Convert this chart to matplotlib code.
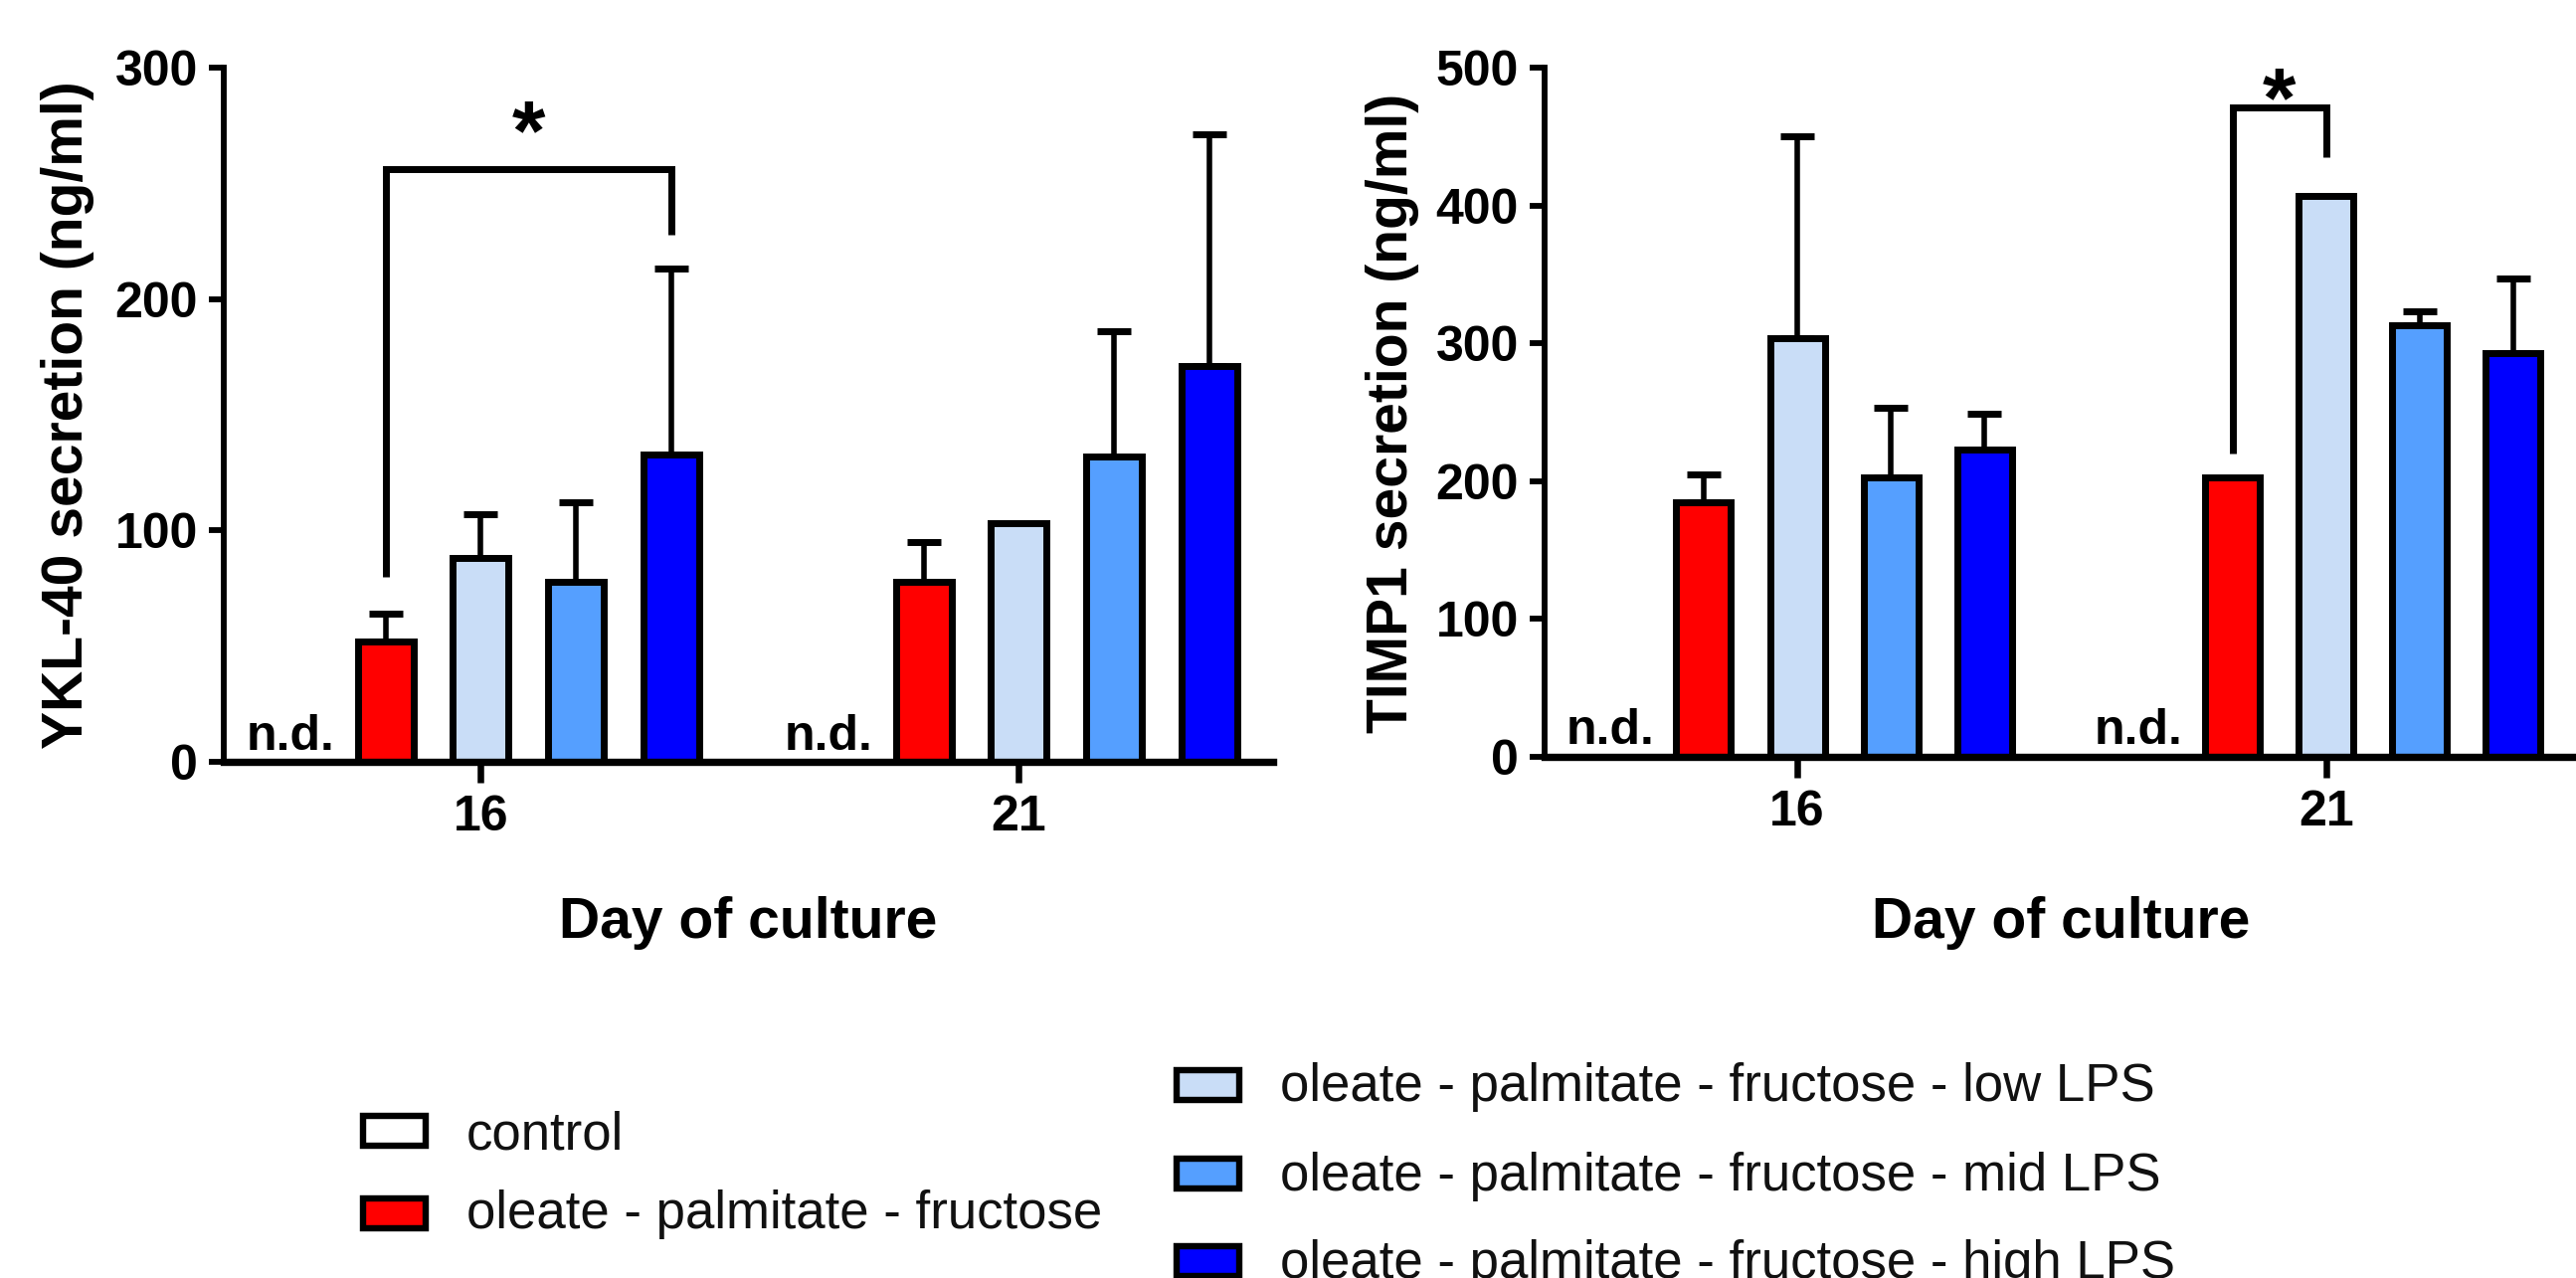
import matplotlib
matplotlib.use('Agg')
import matplotlib.pyplot as plt
from matplotlib.patches import Rectangle
import numpy as np

plt.rcParams['font.family'] = ['Liberation Sans', 'DejaVu Sans']

# ---------------- data ----------------
days = ['16', '21']
groups = ['control',
          'oleate - palmitate - fructose',
          'oleate - palmitate - fructose - low LPS',
          'oleate - palmitate - fructose - mid LPS',
          'oleate - palmitate - fructose - high LPS']
colors = ['#FFFFFF', '#FF0000', '#C9DDF7', '#559FFF', '#0000FF']

# None = not detected (n.d.) / no error bar
ykl40_d16 = [None, 52, 88, 78, 133]
ykl40_d16_err = [None, 12, 19, 34, 80]
ykl40_d21 = [None, 78, 103, 132, 171]
ykl40_d21_err = [None, 17, None, 54, 100]

timp1_d16 = [None, 185, 304, 203, 223]
timp1_d16_err = [None, 20, 146, 50, 26]
timp1_d21 = [None, 203, 407, 313, 293]
timp1_d21_err = [None, None, None, 10, 54]

# significance brackets: (day index, group a, group b, top, leg a bottom, leg b bottom, star y)
ykl40_sig = (0, 1, 4, 256, 80, 228, 282)
timp1_sig = (1, 1, 2, 471, 220, 435, 493)

# ---------------- layout ----------------
W, H = 2590, 1285
DPI = 100
fig = plt.figure(figsize=(W / DPI, H / DPI), dpi=DPI)
fig.patch.set_facecolor('white')

group_centers = [0.0, 5.65]
offsets = [-2, -1, 0, 1, 2]
bar_w = 0.585
XLIM = (-2.70, 8.32)

def px_axes(x0, x1, y0, y1):
    return fig.add_axes([x0 / W, 1 - y1 / H, (x1 - x0) / W, (y1 - y0) / H])

ax1 = px_axes(225, 1280, 68, 766)
ax2 = px_axes(1553, 2590, 68, 761)

SPINE_LW = 5.0
EDGE_LW = 5.0
TICK_FS = 36
LABEL_FS = 41

def draw_panel(ax, d16, e16, d21, e21, ymax, ystep, sig):
    data = [d16, d21]
    errs = [e16, e21]
    for gi in range(2):
        for bi in range(5):
            x = group_centers[gi] + offsets[bi]
            v = data[gi][bi]
            if v is None:
                ax.annotate('n.d.', xy=(x, 0), xytext=(0, 9), textcoords='offset points',
                            ha='center', va='baseline', fontsize=TICK_FS, fontweight='bold',
                            zorder=5)
                continue
            e = errs[gi][bi]
            if e is not None:
                ax.errorbar([x], [v], yerr=[[0], [e]], fmt='none', ecolor='black',
                            elinewidth=4.0, capsize=12.5, capthick=5.0, zorder=2,
                            clip_on=False)
            ax.bar([x], [v], width=bar_w, color=colors[bi], edgecolor='black',
                   linewidth=EDGE_LW, zorder=3)
    # significance bracket
    gi, a, b, top, la, lb, ys = sig
    xa = group_centers[gi] + offsets[a]
    xb = group_centers[gi] + offsets[b]
    ax.plot([xa, xa, xb, xb], [la, top, top, lb], color='black', lw=5.0,
            solid_joinstyle='miter', solid_capstyle='butt', zorder=4, clip_on=False)
    ax.annotate('*', xy=((xa + xb) / 2, ys), xytext=(0, -0.58 * 62),
                textcoords='offset points', ha='center', va='baseline',
                fontsize=62, fontweight='bold', clip_on=False)

    ax.set_xlim(*XLIM)
    ax.set_ylim(0, ymax)
    ax.set_yticks(np.arange(0, ymax + 1, ystep))
    ax.set_xticks(group_centers)
    ax.set_xticklabels(days)
    for s in ['top', 'right']:
        ax.spines[s].set_visible(False)
    ax.spines['left'].set_linewidth(SPINE_LW - 0.8)
    ax.spines['bottom'].set_linewidth(SPINE_LW + 0.3)
    ax.spines['bottom'].set_zorder(6)
    ax.spines['left'].set_zorder(6)
    ax.tick_params(axis='y', direction='out', length=10.8, width=SPINE_LW - 0.8, pad=8,
                   labelsize=TICK_FS)
    ax.tick_params(axis='x', direction='out', length=15, width=SPINE_LW - 0.3, pad=9,
                   labelsize=TICK_FS)
    for lab in ax.get_xticklabels() + ax.get_yticklabels():
        lab.set_fontweight('bold')
    ax.patch.set_alpha(0)

draw_panel(ax1, ykl40_d16, ykl40_d16_err, ykl40_d21, ykl40_d21_err, 300, 100, ykl40_sig)
draw_panel(ax2, timp1_d16, timp1_d16_err, timp1_d21, timp1_d21_err, 500, 100, timp1_sig)

# axis labels
fig.text(68 / W, 1 - 417 / H, 'YKL-40 secretion (ng/ml)', rotation=90, ha='center',
         va='center', fontsize=LABEL_FS, fontweight='bold')
fig.text(1400 / W, 1 - 415 / H, 'TIMP1 secretion (ng/ml)', rotation=90, ha='center',
         va='center', fontsize=LABEL_FS, fontweight='bold')
fig.text(752 / W, 1 - 943 / H, 'Day of culture', ha='center', va='baseline',
         fontsize=LABEL_FS, fontweight='bold')
fig.text(2072 / W, 1 - 943 / H, 'Day of culture', ha='center', va='baseline',
         fontsize=LABEL_FS, fontweight='bold')

# legend (drawn manually to match placement)
LEG_FS = 38
leg_items = [
    (0, 365, 1122, 469, 1155),
    (1, 365, 1205, 469, 1235),
    (2, 1183, 1076, 1287, 1107),
    (3, 1183, 1165, 1287, 1197),
    (4, 1183, 1253, 1287, 1285),
]
for gi, px, py, tx, ty in leg_items:
    r = Rectangle((px / W, 1 - (py + 30) / H), 63 / W, 30 / H, transform=fig.transFigure,
                  facecolor=colors[gi], edgecolor='black', linewidth=4.6)
    fig.patches.append(r)
    fig.text(tx / W, 1 - ty / H, groups[gi], ha='left', va='baseline', fontsize=LEG_FS,
             color='#111111')

fig.savefig('out.png', dpi=DPI, facecolor='white')
